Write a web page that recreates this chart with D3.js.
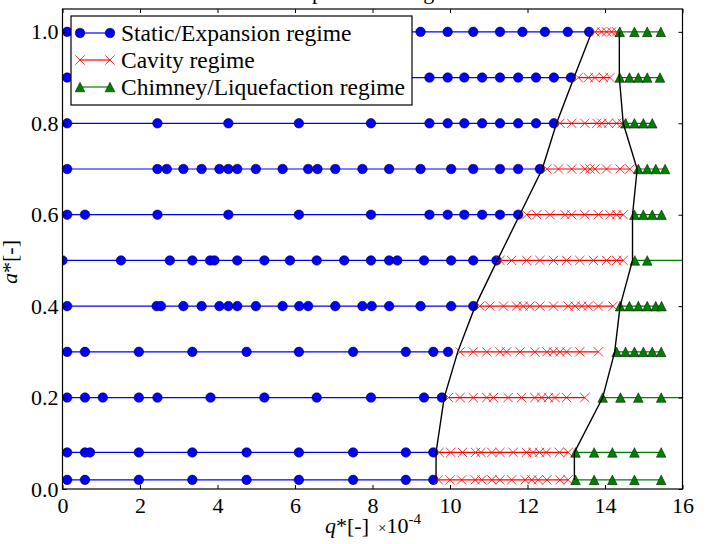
<!DOCTYPE html>
<html lang="en">
<head>
<meta charset="UTF-8">
<title>Regime map</title>
<script src="https://cdnjs.cloudflare.com/ajax/libs/d3/7.8.5/d3.min.js"></script>
<style>
  body { margin: 0; background: #fff; }
  svg text { font-family: "Liberation Serif", "Times New Roman", "DejaVu Serif", serif; fill: #000; }
</style>
</head>
<body>
<div id="chart"></div>
<script>
// a* value of each experimental row
var rowLevels = [0.02, 0.08, 0.2, 0.3, 0.4, 0.5, 0.6, 0.7, 0.8, 0.9, 1.0];

// q* (x1e-4) of the points in each regime, one list per row
var staticQ = [
  [0.12, 0.58, 1.97, 3.35, 4.75, 6.10, 7.50, 8.86, 9.57],
  [0.12, 0.58, 0.71, 1.97, 3.35, 4.75, 6.10, 7.50, 8.86, 9.57],
  [0.12, 0.58, 1.04, 1.97, 2.45, 3.82, 5.21, 6.56, 7.96, 9.33, 9.79],
  [0.12, 0.58, 1.97, 3.35, 4.75, 6.10, 7.50, 8.86, 9.57, 9.95],
  [0.12, 2.43, 2.54, 3.12, 3.59, 4.05, 4.28, 4.51, 4.99, 5.68, 6.11, 6.34, 7.04, 7.74, 7.98, 8.43, 9.24, 10.03, 10.60],
  [0.0, 1.51, 2.77, 3.35, 3.81, 3.92, 4.51, 5.21, 5.87, 6.56, 7.27, 7.96, 8.43, 8.64, 9.33, 10.03, 10.60, 11.20],
  [0.12, 0.58, 2.45, 4.28, 6.10, 7.96, 9.47, 9.94, 10.37, 10.83, 11.29, 11.76],
  [0.12, 2.45, 2.69, 3.12, 3.59, 4.05, 4.28, 4.51, 4.99, 5.68, 6.34, 6.58, 7.04, 7.74, 8.43, 9.24, 10.03, 10.60, 11.29, 11.76, 12.32],
  [0.12, 2.45, 4.28, 6.10, 7.96, 9.47, 9.94, 10.37, 10.83, 11.29, 11.76, 12.22, 12.68],
  [0.12, 2.45, 4.28, 6.10, 7.96, 9.47, 9.94, 10.37, 10.83, 11.29, 11.76, 12.22, 12.68, 13.12],
  [0.12, 2.45, 4.28, 6.10, 7.96, 9.24, 9.94, 10.60, 11.29, 11.87, 12.45, 13.04, 13.59]
];
var cavityQ = [
  [9.70, 10.00, 10.30, 10.65, 10.82, 11.08, 11.29, 11.59, 11.94, 12.11, 12.28, 12.50, 12.84, 13.05],
  [9.72, 10.02, 10.32, 10.66, 10.80, 11.08, 11.29, 11.63, 11.97, 12.14, 12.31, 12.48, 12.82, 13.05],
  [9.96, 10.26, 10.60, 10.95, 11.12, 11.50, 11.85, 12.19, 12.37, 12.54, 12.71, 13.01, 13.48],
  [10.26, 10.60, 10.95, 11.29, 11.46, 11.81, 12.19, 12.50, 12.67, 12.84, 13.01, 13.35, 13.83],
  [10.77, 11.03, 11.38, 11.72, 11.89, 12.06, 12.32, 12.67, 13.05, 13.23, 13.40, 13.57, 13.83, 14.21],
  [11.29, 11.59, 11.98, 12.32, 12.67, 13.01, 13.35, 13.70, 14.04, 14.30, 14.47],
  [11.98, 12.24, 12.58, 12.97, 13.14, 13.48, 13.83, 14.13, 14.30, 14.47],
  [12.50, 12.80, 13.14, 13.48, 13.61, 13.74, 14.04, 14.39, 14.64],
  [12.84, 13.14, 13.48, 13.79, 13.92, 14.09, 14.30, 14.45],
  [13.31, 13.57, 13.74, 13.96, 14.13],
  [13.74, 13.91, 14.04, 14.17, 14.30]
];
var chimneyQ = [
  [13.24, 13.72, 14.19, 14.76, 15.45],
  [13.24, 13.72, 14.19, 14.76, 15.45],
  [13.94, 14.40, 14.86, 15.45, 16.50],
  [14.30, 14.53, 14.76, 14.99, 15.22, 15.45],
  [14.39, 14.63, 14.86, 15.09, 15.31, 15.46],
  [14.77, 15.09, 16.50],
  [14.76, 14.99, 15.22, 15.46],
  [14.86, 15.09, 15.31, 15.55],
  [14.53, 14.76, 14.99, 15.22],
  [14.38, 14.63, 14.86, 15.09, 15.42],
  [14.38, 14.76, 15.09, 15.44]
];

// regime boundaries, one q* per row
var leftBoundaryQ = [9.64, 9.64, 9.85, 10.20, 10.65, 11.22, 11.80, 12.38, 12.75, 13.20, 13.66];
var rightBoundaryQ = [13.21, 13.21, 13.94, 14.25, 14.39, 14.71, 14.71, 14.83, 14.47, 14.37, 14.37];

var xTicks = [0, 2, 4, 6, 8, 10, 12, 14, 16];
var yTicks = [0.0, 0.2, 0.4, 0.6, 0.8, 1.0];
var legendLabels = ["Static/Expansion regime", "Cavity regime", "Chimney/Liquefaction regime"];

var width = 706, height = 544;
var margin = {left: 62.5, right: 23.5, top: 9, bottom: 55};
var fontFam = "Liberation Serif, Times New Roman, DejaVu Serif, serif";
var fs = 22, legendFs = 23.5;

var x = d3.scaleLinear().domain([0, 16]).range([margin.left, width - margin.right]);
var y = d3.scaleLinear().domain([0, 1.05]).range([height - margin.bottom, margin.top]);

var svg = d3.select("#chart").append("svg")
  .attr("width", width).attr("height", height)
  .attr("font-family", fontFam);

svg.append("defs").append("clipPath").attr("id", "plotclip")
  .append("rect")
  .attr("x", x(0)).attr("y", y(1.05))
  .attr("width", x(16) - x(0)).attr("height", y(0) - y(1.05));

// title sits mostly above the visible area
svg.append("text")
  .attr("x", (x(0) + x(16)) / 2).attr("y", -1.5)
  .attr("text-anchor", "middle").attr("font-size", fs)
  .text("Comparison of regimes");

var plot = svg.append("g").attr("clip-path", "url(#plotclip)");

var line = d3.line().x(d => x(d[0])).y(d => y(d[1]));
var triPath = "M0,-4.8L4.8,4.8L-4.8,4.8Z";
var crossPath = "M-4.6,-4.6L4.6,4.6M-4.6,4.6L4.6,-4.6";

function drawCircles(g, pts) {
  g.selectAll(null).data(pts).enter().append("circle")
    .attr("cx", d => x(d[0])).attr("cy", d => y(d[1])).attr("r", 4.8)
    .attr("fill", "#0000ff").attr("stroke", "#000").attr("stroke-width", 0.5);
}
function drawCrosses(g, pts) {
  g.selectAll(null).data(pts).enter().append("path")
    .attr("transform", d => "translate(" + x(d[0]) + "," + y(d[1]) + ")")
    .attr("d", crossPath).attr("fill", "none")
    .attr("stroke", "#ff0000").attr("stroke-width", 0.8);
}
function drawTriangles(g, pts) {
  g.selectAll(null).data(pts).enter().append("path")
    .attr("transform", d => "translate(" + x(d[0]) + "," + y(d[1]) + ")")
    .attr("d", triPath)
    .attr("fill", "#008000").attr("stroke", "#000").attr("stroke-width", 0.5);
}

rowLevels.forEach(function (a, i) {
  var s = staticQ[i].map(q => [q, a]);
  var c = cavityQ[i].map(q => [q, a]);
  var h = chimneyQ[i].map(q => [q, a]);
  var g = plot.append("g");
  g.append("path").attr("d", line(s)).attr("fill", "none").attr("stroke", "#0000ff").attr("stroke-width", 1.2);
  drawCircles(g, s);
  g.append("path").attr("d", line(c)).attr("fill", "none").attr("stroke", "#ff0000").attr("stroke-width", 1.2);
  drawCrosses(g, c);
  g.append("path").attr("d", line(h)).attr("fill", "none").attr("stroke", "#008000").attr("stroke-width", 1.2);
  drawTriangles(g, h);
});

[leftBoundaryQ, rightBoundaryQ].forEach(function (qs) {
  plot.append("path")
    .attr("d", line(qs.map((q, i) => [q, rowLevels[i]])))
    .attr("fill", "none").attr("stroke", "#000").attr("stroke-width", 1.4);
});

// frame and inward ticks on all four sides
var axes = svg.append("g");
axes.append("g").attr("transform", "translate(0," + y(0) + ")")
  .call(d3.axisBottom(x).tickValues(xTicks).tickSizeInner(-4).tickSizeOuter(0).tickPadding(8).tickFormat(d3.format("d")));
axes.append("g").attr("transform", "translate(0," + y(1.05) + ")")
  .call(d3.axisTop(x).tickValues(xTicks).tickSizeInner(-4).tickSizeOuter(0).tickFormat(""));
axes.append("g").attr("transform", "translate(" + x(0) + ",0)")
  .call(d3.axisLeft(y).tickValues(yTicks).tickSizeInner(-4).tickSizeOuter(0).tickPadding(4).tickFormat(d3.format(".1f")));
axes.append("g").attr("transform", "translate(" + x(16) + ",0)")
  .call(d3.axisRight(y).tickValues(yTicks).tickSizeInner(-4).tickSizeOuter(0).tickFormat(""));
axes.selectAll("g").attr("font-family", fontFam);
axes.selectAll(".domain").remove();
axes.selectAll(".tick line").attr("stroke", "#000").attr("stroke-width", 1);
axes.selectAll(".tick text").attr("font-size", fs).attr("font-family", fontFam);

svg.append("rect")
  .attr("x", x(0)).attr("y", y(1.05))
  .attr("width", x(16) - x(0)).attr("height", y(0) - y(1.05))
  .attr("fill", "none").attr("stroke", "#000").attr("stroke-width", 1.2);

// axis labels
var xl = svg.append("text").attr("x", 325).attr("y", 533).attr("font-size", fs);
xl.append("tspan").attr("font-style", "italic").text("q");
xl.append("tspan").text("*[-]");
var off = svg.append("text").attr("x", 378).attr("y", 533).attr("font-size", fs);
off.append("tspan").attr("font-size", 15).text("\u00d7");
off.append("tspan").text("10");
off.append("tspan").attr("font-size", 15).attr("dy", -9).text("-4");

var yl = svg.append("text").attr("transform", "translate(17,262) rotate(-90)")
  .attr("text-anchor", "middle").attr("font-size", fs);
yl.append("tspan").attr("font-style", "italic").text("a");
yl.append("tspan").text("*[-]");

// legend
var lg = svg.append("g");
lg.append("rect").attr("x", 71).attr("y", 16).attr("width", 341).attr("height", 89)
  .attr("fill", "#fff").attr("stroke", "#000").attr("stroke-width", 1.2);
var legendColors = ["#0000ff", "#ff0000", "#008000"];
var legendDraw = [drawCircles, drawCrosses, drawTriangles];
legendLabels.forEach(function (lab, i) {
  var ly = 33 + i * 27;
  var g = lg.append("g");
  g.append("line").attr("x1", 80).attr("x2", 110).attr("y1", ly).attr("y2", ly)
    .attr("stroke", legendColors[i]).attr("stroke-width", 1.2);
  var pts = [[x.invert(80), y.invert(ly)], [x.invert(110), y.invert(ly)]];
  legendDraw[i](g, pts);
  g.append("text").attr("x", 121).attr("y", ly).attr("dy", "0.35em")
    .attr("font-size", legendFs).text(lab);
});
</script>
</body>
</html>
